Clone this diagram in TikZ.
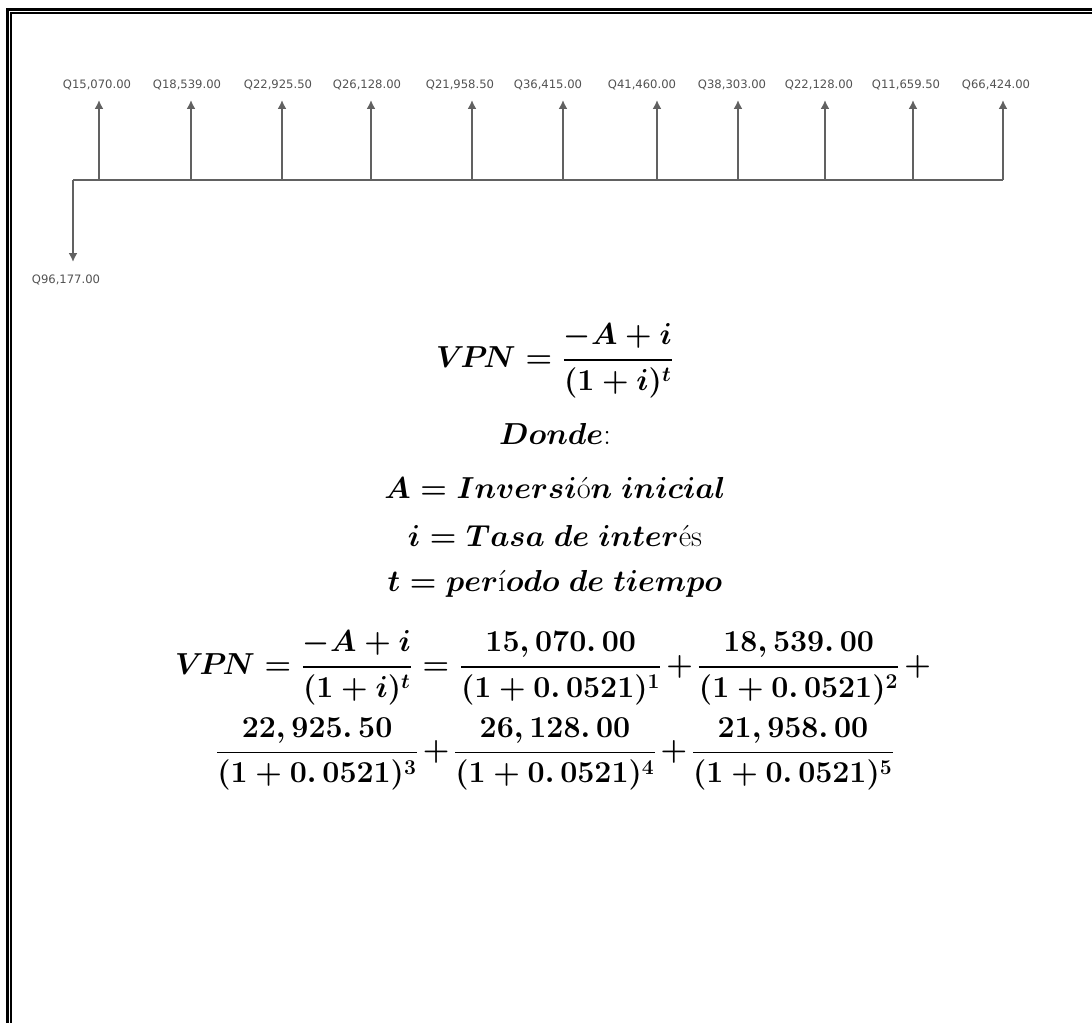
\documentclass[tikz,border=0pt]{standalone}
\usepackage{amsmath}
\usepackage{fontspec}
\newfontfamily\flowfont{DejaVu Sans}
\usetikzlibrary{arrows.meta}

\newcommand{\vpnsym}{V\mkern-2mu P\mkern-2mu N}
\newcommand{\tplus}{\mkern2mu{+}\mkern2mu}

\begin{document}
\begin{tikzpicture}[x=0.02cm,y=-0.02cm,
  flowline/.style={draw=black!62,line width=1.6pt},
  flowarrow/.style={flowline,-{Latex[length=5pt,width=5pt]}},
  flowlabel/.style={inner sep=0pt,text=black!68,font=\flowfont\fontsize{6.6}{7}\selectfont},
  eqline/.style={inner sep=0pt,font=\LARGE\boldmath}]
  \useasboundingbox (0,0) rectangle (1092,1023);
  % page frame
  \draw[line width=1.4pt] (7.5,1023) -- (7.5,9.7) -- (1092,9.7);
  \draw[line width=0.85pt] (11,1023) -- (11,13.2) -- (1092,13.2);
  % cash flow line
  \coordinate (t0) at (73,180);
  \coordinate (t11) at (1003,180);
  \draw[flowline] (t0) -- (t11);
  \coordinate (inv) at (73,262);
  \draw[flowarrow] (t0) -- (inv);
  \node[flowlabel] (q0) at (66,280) {Q96,177.00};
  \coordinate (t1) at (99,180);   \coordinate (u1) at (99,100);
  \coordinate (t2) at (191,180);  \coordinate (u2) at (191,100);
  \coordinate (t3) at (282,180);  \coordinate (u3) at (282,100);
  \coordinate (t4) at (371,180);  \coordinate (u4) at (371,100);
  \coordinate (t5) at (472,180);  \coordinate (u5) at (472,100);
  \coordinate (t6) at (563,180);  \coordinate (u6) at (563,100);
  \coordinate (t7) at (657,180);  \coordinate (u7) at (657,100);
  \coordinate (t8) at (738,180);  \coordinate (u8) at (738,100);
  \coordinate (t9) at (825,180);  \coordinate (u9) at (825,100);
  \coordinate (t10) at (913,180); \coordinate (u10) at (913,100);
  \draw[flowarrow] (t1) -- (u1);
  \draw[flowarrow] (t2) -- (u2);
  \draw[flowarrow] (t3) -- (u3);
  \draw[flowarrow] (t4) -- (u4);
  \draw[flowarrow] (t5) -- (u5);
  \draw[flowarrow] (t6) -- (u6);
  \draw[flowarrow] (t7) -- (u7);
  \draw[flowarrow] (t8) -- (u8);
  \draw[flowarrow] (t9) -- (u9);
  \draw[flowarrow] (t10) -- (u10);
  \coordinate (u11) at (1003,100);
  \draw[flowarrow] (t11) -- (u11);
  \node[flowlabel] (q1) at (97,85) {Q15,070.00};
  \node[flowlabel] (q2) at (187,85) {Q18,539.00};
  \node[flowlabel] (q3) at (278,85) {Q22,925.50};
  \node[flowlabel] (q4) at (367,85) {Q26,128.00};
  \node[flowlabel] (q5) at (460,85) {Q21,958.50};
  \node[flowlabel] (q6) at (548,85) {Q36,415.00};
  \node[flowlabel] (q7) at (642,85) {Q41,460.00};
  \node[flowlabel] (q8) at (732,85) {Q38,303.00};
  \node[flowlabel] (q9) at (819,85) {Q22,128.00};
  \node[flowlabel] (q10) at (906,85) {Q11,659.50};
  \node[flowlabel] (q11) at (996,85) {Q66,424.00};
  % formulas
  \node[eqline] (vpn) at (555,361) {$\vpnsym=\dfrac{-A+i}{(1+i)^t}$};
  \node[eqline,anchor=base] (donde) at (555,445) {$Donde$:};
  \node[eqline,anchor=base] (defa) at (555,499) {$A=Inversi$ó$n\ inicial$};
  \node[eqline,anchor=base] (defi) at (555,546) {$i=Tasa\ de\ inter$és};
  \node[eqline,anchor=base] (deft) at (555,591) {$t=per$í$odo\ de\ tiempo$};
  \node[eqline] (calc1) at (555,668) {$\vpnsym=\dfrac{-A+i}{(1+i)^t}=\dfrac{15,070.\,00}{(1+0.\,0521)^1}\tplus\dfrac{18,539.\,00}{(1+0.\,0521)^2}\tplus$};
  \node[eqline] (calc2) at (555,754) {$\dfrac{22,925.\,50}{(1+0.\,0521)^3}\tplus\dfrac{26,128.\,00}{(1+0.\,0521)^4}\tplus\dfrac{21,958.\,00}{(1+0.\,0521)^5}$};
\end{tikzpicture}
\end{document}
